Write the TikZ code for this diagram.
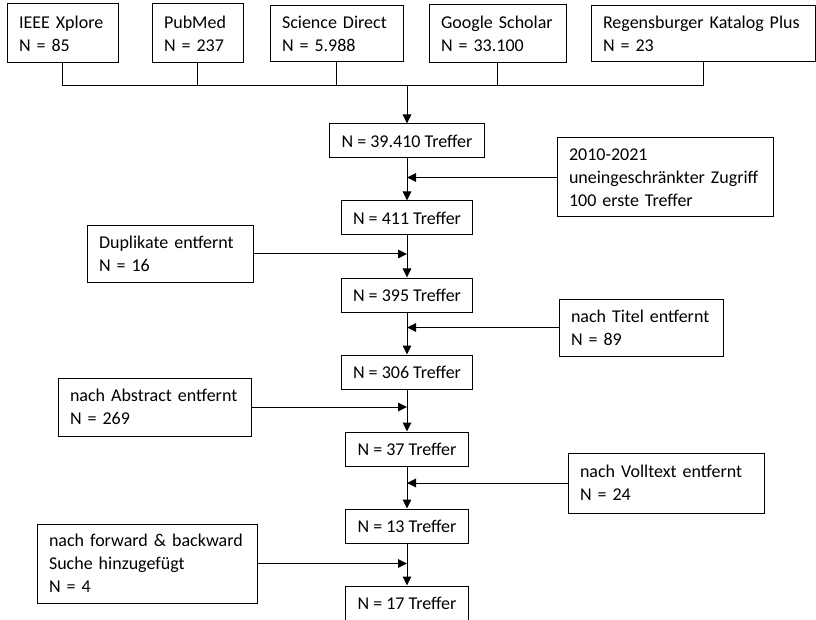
\documentclass[tikz,border=0pt]{standalone}
\usepackage{fontspec}
\setmainfont{Carlito}
\usetikzlibrary{positioning,arrows.meta}
\tikzstyle{box}=[draw, line width=1pt, inner xsep=12pt, inner ysep=4pt,
font=\fontsize{18}{23}\selectfont]
\tikzstyle{hit}=[box, minimum height=34pt]
\tikzstyle{note}=[box, align=left]

\begin{document}
\begin{tikzpicture}[x=1pt, y=-1pt, node distance=77pt, on grid,
  >={Triangle[length=9pt,width=8.5pt]}, line width=1pt]
  \useasboundingbox (0,0) rectangle (816,620);

  % databases
  \node[note, text width=87pt, minimum height=59pt] at (62.5,33.5) (ieee) {IEEE Xplore\\N = 85};
  \node[note, text width=67pt, minimum height=59pt, right=135pt of ieee] (pubmed) {PubMed\\N = 237};
  \node[note, text width=109pt, minimum height=56pt, right=139pt of pubmed] (science) {Science Direct\\N = 5.988};
  \node[note, text width=113pt, minimum height=58pt, right=161pt of science] (google) {Google Scholar\\N = 33.100};
  \node[note, text width=200pt, minimum height=56pt, right=205.5pt of google] (regensburg) {Regensburger Katalog Plus\\N = 23};
  \coordinate (join) at (407,86);

  % hits
  \node[hit] at (407,141) (n39410) {N = 39.410 Treffer};
  \node[hit, below=of n39410] (n411) {N = 411 Treffer};
  \node[hit, below=of n411] (n395) {N = 395 Treffer};
  \node[hit, below=of n395] (n306) {N = 306 Treffer};
  \node[hit, below=of n306] (n37) {N = 37 Treffer};
  \node[hit, below=of n37] (n13) {N = 13 Treffer};
  \node[hit, below=of n13] (n17) {N = 17 Treffer};

  % filters
  \node[note, text width=192pt, minimum height=79pt] at (665,177.5) (zugriff) {2010-2021\\uneingeschränkter Zugriff\\100 erste Treffer};
  \node[note, text width=142pt, minimum height=56pt] at (170,254) (dup) {Duplikate entfernt\\N = 16};
  \node[note, text width=140pt, minimum height=57pt] at (641,327.5) (titel) {nach Titel entfernt\\N = 89};
  \node[note, text width=169pt, minimum height=58pt] at (154.5,407) (abstract) {nach Abstract entfernt\\N = 269};
  \node[note, text width=172pt, minimum height=60pt] at (666,483) (volltext) {nach Volltext entfernt\\N = 24};
  \node[note, text width=196pt, minimum height=79pt] at (147,563.5) (forward) {nach forward \& backward\\Suche hinzugefügt\\N = 4};

  \draw (ieee) -- (ieee |- join) -- (regensburg |- join) -- (regensburg);
  \foreach \src in {pubmed,science,google}
    \draw (\src) -- (\src |- join);
  \draw[->] (join) -- (n39410);

  \foreach \a/\b in {n39410/n411, n411/n395, n395/n306, n306/n37, n37/n13, n13/n17}
    \draw[->] (\a) -- (\b);

  \draw[->] (zugriff) -- (zugriff -| n39410);
  \draw[->] (dup) -- (dup -| n411);
  \draw[->] (titel) -- (titel -| n395);
  \draw[->] (abstract) -- (abstract -| n306);
  \draw[->] (volltext) -- (volltext -| n37);
  \draw[->] (forward) -- (forward -| n13);
\end{tikzpicture}
\end{document}
